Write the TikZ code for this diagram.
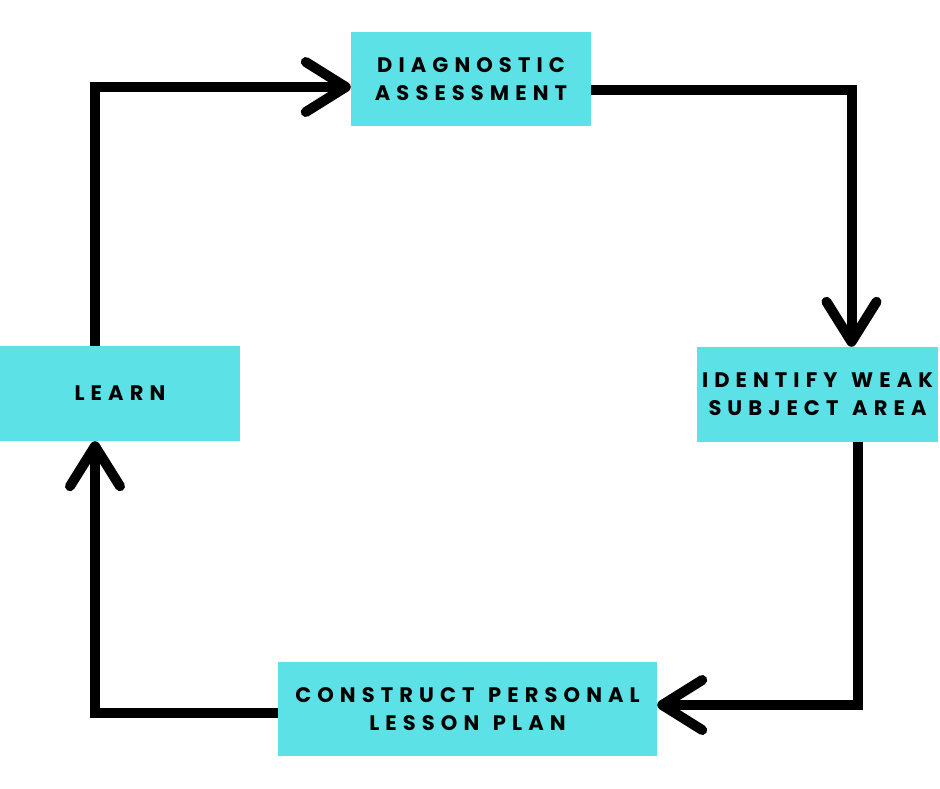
\documentclass[tikz,border=0pt]{standalone}
\usepackage{fontspec}
\newfontfamily\lbl{Poppins}[LetterSpace=29,WordSpace=1.3]
\usetikzlibrary{arrows.meta}
\definecolor{boxcyan}{HTML}{5CE1E6}
\tikzset{
  stepbox/.style={fill=boxcyan, draw=none, inner sep=0pt, align=center,
    font=\lbl\bfseries\fontsize{21pt}{28pt}\selectfont},
  flow/.style={line width=10pt, draw=black,
    -{Straight Barb[length=40pt,width=50pt,round]}}
}
\begin{document}
\begin{tikzpicture}[x=1pt,y=-1pt]
\useasboundingbox (0,0) rectangle (940,788);
\node[stepbox, minimum width=240pt, minimum height=94pt] (diag) at (471,79) {DIAGNOSTIC\\ASSESSMENT};
\node[stepbox, minimum width=241pt, minimum height=95pt] (ident) at (817.5,394.5) {IDENTIFY WEAK\\SUBJECT AREA};
\node[stepbox, minimum width=240pt, minimum height=95pt] (learn) at (120,393.5) {LEARN};
\node[stepbox, minimum width=379pt, minimum height=94pt] (cons) at (467.5,709) {CONSTRUCT PERSONAL\\LESSON PLAN};
\draw[flow] ([yshift=-11pt]diag.east) -| ([xshift=34pt]ident.north);
\draw[flow] ([xshift=40pt]ident.south) |- ([yshift=4pt]cons.east);
\draw[flow] ([yshift=-4pt]cons.west) -| ([xshift=-25pt]learn.south);
\draw[flow] ([xshift=-25pt]learn.north) |- ([yshift=-8pt]diag.west);
\end{tikzpicture}
\end{document}
